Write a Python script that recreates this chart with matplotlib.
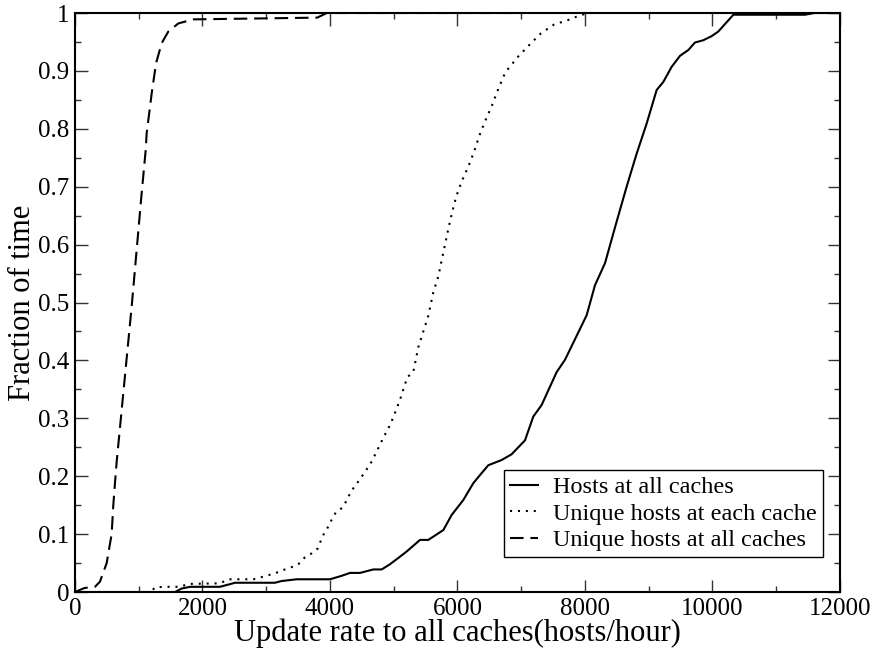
import matplotlib
matplotlib.use("Agg")
import matplotlib.pyplot as plt
from matplotlib.ticker import MultipleLocator, FuncFormatter

plt.rcParams["font.family"] = ["Liberation Serif", "DejaVu Serif"]

# CDF readings: update rate (hosts/hour) vs fraction of time
hosts_all_x = [0, 1569, 1673, 1804, 2275, 2510, 3137, 3242, 3477, 4000, 4183, 4314,
               4471, 4680, 4811, 4941, 5098, 5203, 5412, 5542, 5778, 5908, 6092, 6248,
               6353, 6484, 6693, 6850, 7059, 7189, 7320, 7556, 7686, 8026, 8157, 8314,
               8497, 8653, 8810, 8967, 9124, 9229, 9359, 9490, 9620, 9725, 9856, 9986,
               10091, 10327, 11450, 11600, 12000]
hosts_all_y = [0, 0, 0.006, 0.009, 0.009, 0.016, 0.016, 0.019, 0.022, 0.022, 0.028, 0.033,
               0.033, 0.039, 0.039, 0.048, 0.061, 0.070, 0.090, 0.090, 0.107, 0.133, 0.159, 0.188,
               0.202, 0.219, 0.228, 0.238, 0.262, 0.303, 0.323, 0.380, 0.401, 0.478, 0.530, 0.568,
               0.640, 0.700, 0.757, 0.809, 0.867, 0.881, 0.907, 0.926, 0.936, 0.949, 0.953, 0.960,
               0.968, 0.997, 0.997, 1.0, 1.0]

uniq_each_x = [0, 1200, 1250, 1396, 1647, 1778, 2275, 2405, 2797, 2902, 3033, 3153, 3268,
               3399, 3503, 3597, 3702, 3807, 3854, 3906, 3974, 4031, 4094, 4199, 4261,
               4314, 4382, 4460, 4533, 4601, 4669, 4722, 4784, 4837, 4899, 4952, 5004,
               5098, 5213, 5307, 5386, 5464, 5542, 5621, 5699, 5752, 5804, 5856, 5914,
               5977, 6066, 6170, 6259, 6342, 6436, 6536, 6630, 6724, 6797, 6954, 7137,
               7310, 7514, 7765, 7895, 8050, 10100]
uniq_each_y = [0, 0, 0.008, 0.009, 0.009, 0.014, 0.015, 0.022, 0.022, 0.025, 0.029, 0.033, 0.038,
               0.043, 0.048, 0.059, 0.066, 0.075, 0.088, 0.101, 0.113, 0.126, 0.138, 0.146, 0.158,
               0.170, 0.182, 0.193, 0.205, 0.216, 0.228, 0.241, 0.254, 0.267, 0.279, 0.291, 0.305,
               0.332, 0.371, 0.380, 0.423, 0.450, 0.477, 0.518, 0.545, 0.573, 0.600, 0.627, 0.655,
               0.682, 0.709, 0.735, 0.760, 0.788, 0.814, 0.839, 0.866, 0.891, 0.904, 0.925, 0.946,
               0.965, 0.980, 0.989, 0.995, 1.0, 1.0]

uniq_all_x = [0, 150, 314, 392, 497, 575, 601, 627, 654, 889, 1046, 1109, 1124, 1203, 1271,
              1360, 1464, 1621, 1856, 3800, 3950, 7000]
uniq_all_y = [0, 0.007, 0.009, 0.018, 0.05, 0.10, 0.150, 0.188, 0.225, 0.493, 0.689, 0.763,
              0.792, 0.861, 0.913, 0.948, 0.968, 0.982, 0.989, 0.992, 1.0, 1.0]

fig = plt.figure(figsize=(8.75, 6.5), dpi=100)
ax = fig.add_axes([0.0857, 0.0892, 0.8743, 0.8908])

ax.plot(hosts_all_x, hosts_all_y, color="black", lw=1.5, ls="-", label="Hosts at all caches")
ax.plot(uniq_each_x, uniq_each_y, color="black", lw=1.5, ls=(0, (1, 2.8)),
        label="Unique hosts at each cache")
ax.plot(uniq_all_x, uniq_all_y, color="black", lw=1.5, ls=(0, (6.5, 3.3)),
        label="Unique hosts at all caches")

ax.set_xlim(0, 12000)
ax.set_ylim(0, 1)
ax.xaxis.set_major_locator(MultipleLocator(2000))
ax.xaxis.set_minor_locator(MultipleLocator(1000))
ax.yaxis.set_major_locator(MultipleLocator(0.1))
ax.yaxis.set_minor_locator(MultipleLocator(0.05))
ax.yaxis.set_major_formatter(FuncFormatter(lambda v, p: "%g" % round(v, 2)))

ax.tick_params(which="both", direction="in", top=True, right=True, labelsize=18, color="#333333")
ax.tick_params(which="major", length=9, width=1, pad=4)
ax.tick_params(which="minor", length=4.5, width=1)
for s in ax.spines.values():
    s.set_linewidth(1.5)

ax.set_xlabel("Update rate to all caches(hosts/hour)", fontsize=22, labelpad=-1)
ax.set_ylabel("Fraction of time", fontsize=22, labelpad=1)

leg = ax.legend(loc="lower right", bbox_to_anchor=(0.978, 0.06), fontsize=17.5,
                handlelength=1.15, handletextpad=0.65, borderpad=0.25, labelspacing=0.18,
                borderaxespad=0, fancybox=False, framealpha=1, edgecolor="black")
leg.get_frame().set_linewidth(1.0)

fig.savefig("out.png", dpi=100)
